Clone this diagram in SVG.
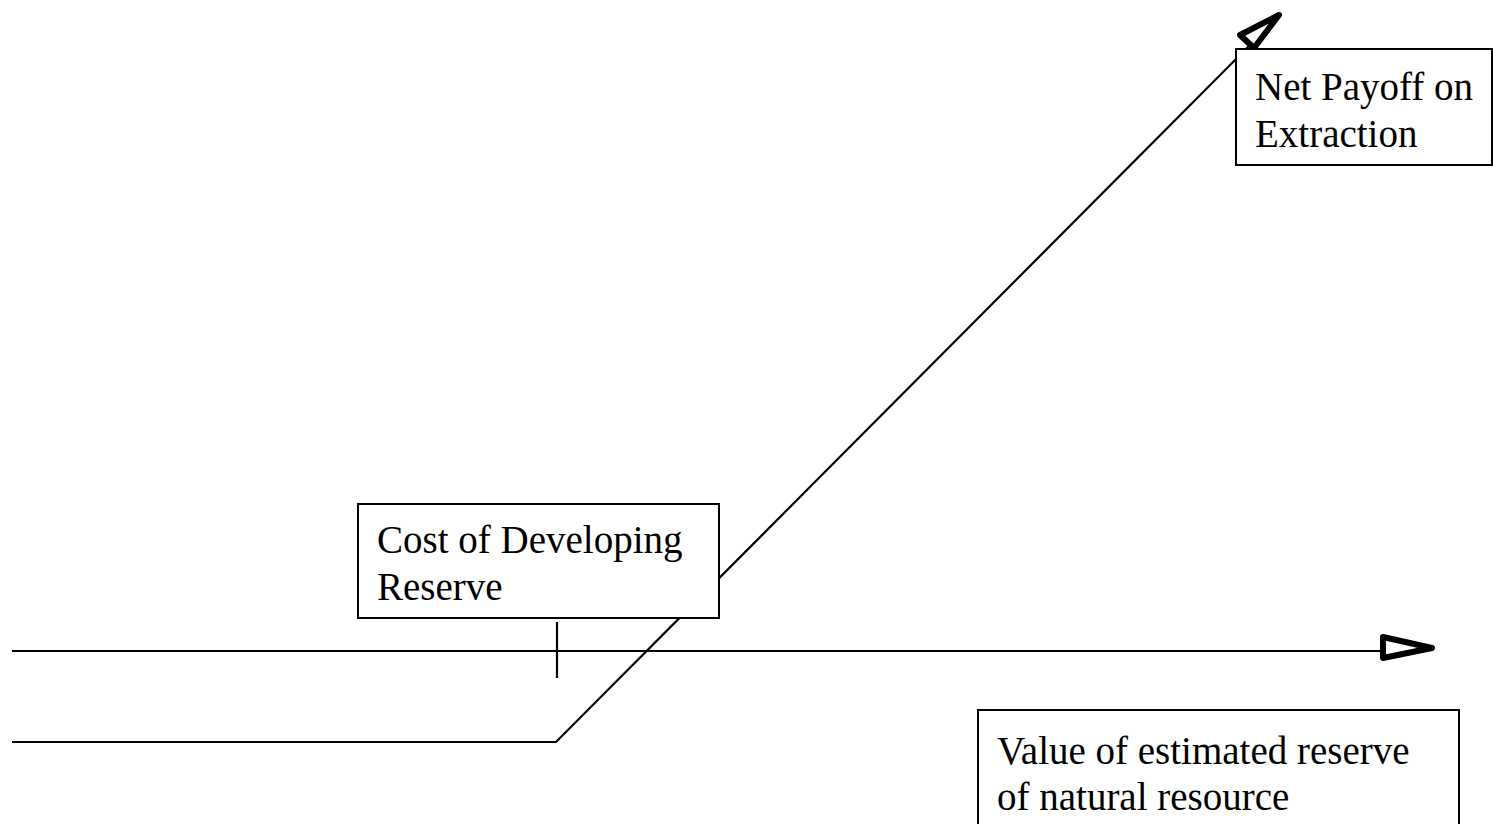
<svg xmlns="http://www.w3.org/2000/svg" width="1493" height="824" viewBox="0 0 1493 824">
<style>
.box{fill:#fff;stroke:#000;stroke-width:2}
.lbl{font-size:39px;fill:#000}
.ln{stroke:#000;stroke-width:2.2;fill:none}
.ah{fill:#fff;stroke:#000;stroke-width:6;stroke-linejoin:round}
</style>
<rect width="1493" height="824" fill="#fff"/>
<g id="connectors">
<line class="ln" x1="12" y1="651" x2="1384" y2="651"/>
<polygon class="ah" points="1383,637 1432,648 1383,658"/>
<line class="ln" x1="557" y1="622" x2="557" y2="678"/>
<polyline class="ln" points="12,742 556,742 1250,45"/>
<polygon class="ah" points="1279,15 1240,35 1254,48"/>
</g>
<g id="cost" font-family="'Liberation Serif', 'Times New Roman', serif">
<rect class="box" x="358" y="504" width="361" height="114" stroke-width="1"/>
<text class="lbl" x="377" y="553">Cost of Developing</text>
<text class="lbl" x="377" y="600">Reserve</text>
</g>
<g id="payoff" font-family="'Liberation Serif', 'Times New Roman', serif">
<rect class="box" x="1236" y="49" width="256" height="116"/>
<text class="lbl" x="1255" y="100">Net Payoff on</text>
<text class="lbl" x="1255" y="147">Extraction</text>
</g>
<g id="value" font-family="'Liberation Serif', 'Times New Roman', serif">
<rect class="box" x="978" y="710" width="481" height="130"/>
<text class="lbl" x="997" y="764">Value of estimated reserve</text>
<text class="lbl" x="997" y="810">of natural resource</text>
</g>
</svg>
